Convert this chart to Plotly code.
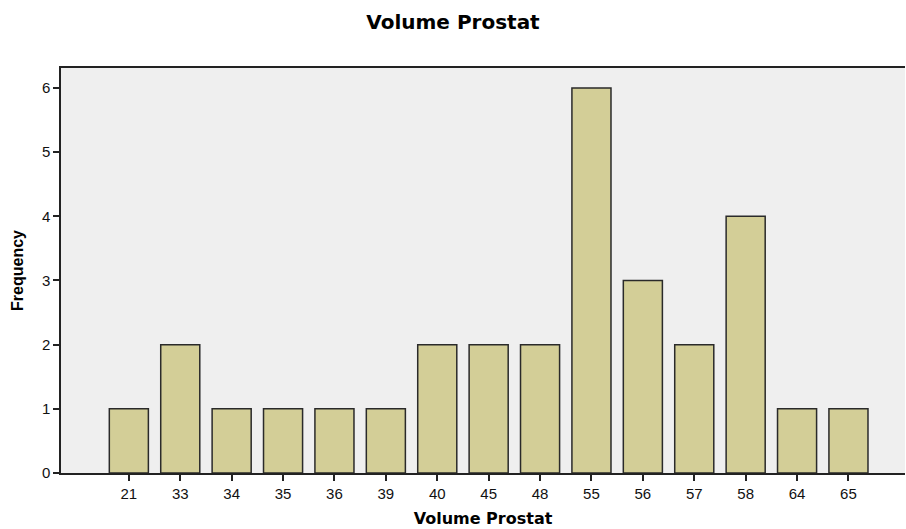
import plotly.graph_objects as go

categories = ["21", "33", "34", "35", "36", "39", "40", "45", "48", "55", "56", "57", "58", "64", "65"]
frequency = [1, 2, 1, 1, 1, 1, 2, 2, 2, 6, 3, 2, 4, 1, 1]
y_ticks = [0, 1, 2, 3, 4, 5, 6]

fig = go.Figure(go.Bar(
    x=categories, y=frequency,
    marker=dict(color="#d3ce97", line=dict(color="#2a2a2a", width=1.5)),
    width=0.76,
))

fig.update_layout(
    width=906, height=529, autosize=False,
    margin=dict(l=61, r=1, t=68, b=56, pad=0),
    paper_bgcolor="white", plot_bgcolor="#efefef",
    showlegend=False,
    title=dict(text="<b>Volume Prostat</b>", x=0.5, xanchor="center", y=0.958, yanchor="middle",
               font=dict(family="DejaVu Sans", size=20, color="black")),
    font=dict(family="Liberation Sans, Arial", size=14, color="#111"),
)
fig.update_xaxes(
    type="category", range=[-1.32, 15.1], automargin=False,
    showgrid=False, showline=True, linecolor="#222", linewidth=1.5, mirror=True,
    ticks="outside", ticklen=6, tickcolor="#222", tickwidth=1.5,
    tickfont=dict(family="Liberation Sans, Arial", size=15, color="#111"),
    title=dict(text="<b>Volume Prostat</b>", standoff=12,
               font=dict(family="DejaVu Sans", size=16, color="black")),
)
fig.update_yaxes(
    range=[0, 6.31], tickvals=y_ticks, automargin=False,
    showgrid=False, zeroline=False, showline=True, linecolor="#222", linewidth=1.5,
    ticks="outside", ticklen=6, tickcolor="#222", tickwidth=1.5,
    tickfont=dict(family="Liberation Sans, Arial", size=15, color="#111"),
    title=dict(text="<b>Frequency</b>", standoff=14,
               font=dict(family="Liberation Sans Narrow, Arial Narrow, Liberation Sans", size=16, color="black")),
)

fig.write_html("out.html", config={"displayModeBar": False},
               post_script="document.body.style.margin='0';document.body.style.overflow='hidden';")
